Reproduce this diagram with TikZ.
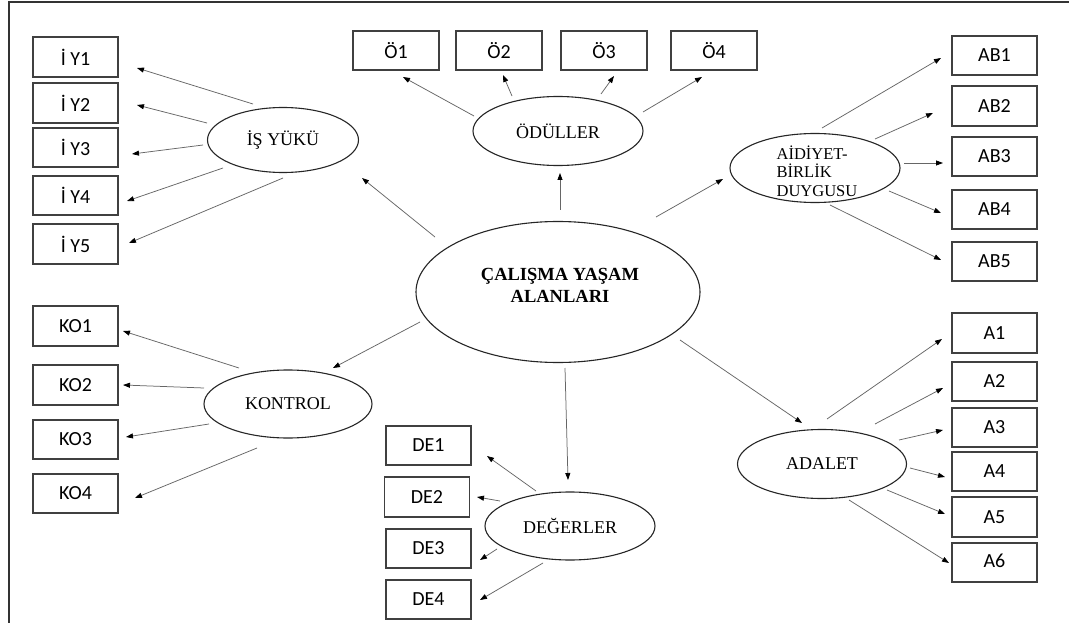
\documentclass[tikz,border=0pt]{standalone}
\usepackage{fontspec}
\setmainfont{Liberation Serif}
\newfontfamily\boxfont{Carlito}
\usetikzlibrary{shapes.geometric,arrows.meta}

\tikzset{
  item/.style={draw=black!75, line width=1.1pt, minimum width=85pt, minimum height=39pt,
    inner sep=0pt, font=\boxfont\fontsize{20}{24}\selectfont},
  latent/.style={draw=black!85, line width=1.1pt, ellipse, inner sep=0pt,
    font=\fontsize{18}{22}\selectfont},
  caption/.style={inner sep=0pt},
  conn/.style={draw=black!60, line width=0.75pt,
    -{Triangle[length=7pt,width=5pt,black]}},
}
% connector from an offset point near node #1 to an offset point near node #3
\newcommand\linkto[4]{\draw[conn] ([shift={(#2)}]#1.center) -- ([shift={(#4)}]#3.center);}

\begin{document}
\begin{tikzpicture}[x=1pt,y=-1pt]
\useasboundingbox (0,0) rectangle (1069,623);
\fill[white] (0,0) rectangle (1069,623);
\draw[line width=1.4pt, black!80] (9,623) -- (9,2) -- (1069,2);

% latent constructs
\node[latent, minimum width=284pt, minimum height=141pt] (cwl) at (558,292) {};
\node[caption, align=center, font=\bfseries\fontsize{18.5}{22}\selectfont] (cwltxt) at (560,285)
  {ÇALIŞMA YAŞAM\\ALANLARI};
\node[latent, minimum width=151pt, minimum height=65pt] (isy) at (283,140) {İŞ YÜKÜ};
\node[latent, minimum width=170pt, minimum height=69pt] (odul) at (558,131) {ÖDÜLLER};
\node[latent, minimum width=170pt, minimum height=69pt] (aid) at (815,168) {};
\node[caption, align=left, font=\fontsize{16.5}{18.5}\selectfont] (aidtxt) at (817,171)
  {AİDİYET-\\BİRLİK\\DUYGUSU};
\node[latent, minimum width=168pt, minimum height=68pt] (kont) at (288,404) {KONTROL};
\node[latent, minimum width=170pt, minimum height=68pt] (deg) at (570,526) {DEĞERLER};
\node[latent, minimum width=169pt, minimum height=69pt] (adal) at (822,464) {ADALET};

% indicators
\node[item, minimum height=40pt] (iy1) at (75.5,57) {\raisebox{-2pt}{İ Y1}};
\node[item, minimum height=40pt] (iy2) at (75.5,103) {İ Y2};
\node[item] (iy3) at (75.5,147.5) {İ Y3};
\node[item] (iy4) at (75.5,195.5) {İ Y4};
\node[item, minimum height=40pt] (iy5) at (75.5,244) {İ Y5};

\node[item, minimum width=86pt] (o1) at (396,50.5) {Ö1};
\node[item, minimum width=86pt] (o2) at (499,50.5) {Ö2};
\node[item, minimum width=86pt] (o3) at (604,50.5) {Ö3};
\node[item, minimum width=86pt] (o4) at (714,50.5) {Ö4};

\node[item] (ab1) at (994.5,55.5) {AB1};
\node[item, minimum height=40pt] (ab2) at (994.5,106) {AB2};
\node[item] (ab3) at (994.5,156.5) {AB3};
\node[item] (ab4) at (994.5,209.5) {AB4};
\node[item] (ab5) at (994.5,261.5) {AB5};

\node[item, minimum height=40pt] (ko1) at (75.5,326) {KO1};
\node[item, minimum height=40pt] (ko2) at (75.5,385) {KO2};
\node[item] (ko3) at (75.5,439.5) {KO3};
\node[item] (ko4) at (75.5,493.5) {KO4};

\node[item] (de1) at (428.5,445.5) {DE1};
\node[item, minimum height=40pt] (de2) at (427,497) {DE2};
\node[item] (de3) at (428.5,548.5) {DE3};
\node[item] (de4) at (428.5,599.5) {DE4};

\node[item, minimum height=40pt] (a1) at (994.5,333) {\raisebox{-5pt}{A1}};
\node[item] (a2) at (994.5,381.5) {A2};
\node[item] (a3) at (994.5,427.5) {A3};
\node[item] (a4) at (994.5,471.5) {A4};
\node[item, minimum height=40pt] (a5) at (994.5,517) {A5};
\node[item] (a6) at (994.5,562.5) {\raisebox{3pt}{A6}};

% central construct to dimensions
\linkto{cwl}{2,-82}{odul}{2,42}
\linkto{cwl}{-123,-55}{isy}{79,38}
\linkto{cwl}{98,-75}{aid}{-92,11}
\linkto{cwl}{-138,30}{kont}{45,-36}
\linkto{cwl}{7,76}{deg}{-2,-46}
\linkto{cwl}{122,48}{adal}{-20,-41}

% İş yükü
\linkto{isy}{-30,-36}{iy1}{61.5,11}
\linkto{isy}{-76,-17}{iy2}{61.5,2}
\linkto{isy}{-80,5}{iy3}{56.5,6.5}
\linkto{isy}{-60,28}{iy4}{51.5,5.5}
\linkto{isy}{0,38}{iy5}{53.5,-1}

% Ödüller
\linkto{odul}{-84,-15}{o1}{7,26.5}
\linkto{odul}{-46,-35}{o2}{4,24.5}
\linkto{odul}{43,-37}{o3}{10,25.5}
\linkto{odul}{85,-19}{o4}{-12,26.5}

% Aidiyet-birlik duygusu
\linkto{aid}{7,-40}{ab1}{-53.5,2.5}
\linkto{aid}{60,-29}{ab2}{-61.5,7}
\linkto{aid}{89,-5}{ab3}{-51.5,6.5}
\linkto{aid}{74,23}{ab4}{-53.5,3.5}
\linkto{aid}{15,37}{ab5}{-53.5,-1.5}

% Kontrol
\linkto{kont}{-49,-36}{ko1}{47.5,5}
\linkto{kont}{-84,-16}{ko2}{47.5,0}
\linkto{kont}{-79,20}{ko3}{50.5,-2.5}
\linkto{kont}{-31,44}{ko4}{59.5,4.5}

% Değerler
\linkto{deg}{-34,-35}{de1}{58.5,10.5}
\linkto{deg}{-70,-25}{de2}{50,0}
\linkto{deg}{-73,23}{de3}{51.5,11.5}
\linkto{deg}{-27,37}{de4}{51.5,0.5}

% Adalet
\linkto{adal}{5,-45}{a1}{-52.5,6}
\linkto{adal}{53,-40}{a2}{-51.5,6.5}
\linkto{adal}{77,-24}{a3}{-51.5,2.5}
\linkto{adal}{88,4}{a4}{-49.5,5.5}
\linkto{adal}{65,26}{a5}{-49.5,-3}
\linkto{adal}{27,36}{a6}{-45.5,0.5}
\end{tikzpicture}
\end{document}
